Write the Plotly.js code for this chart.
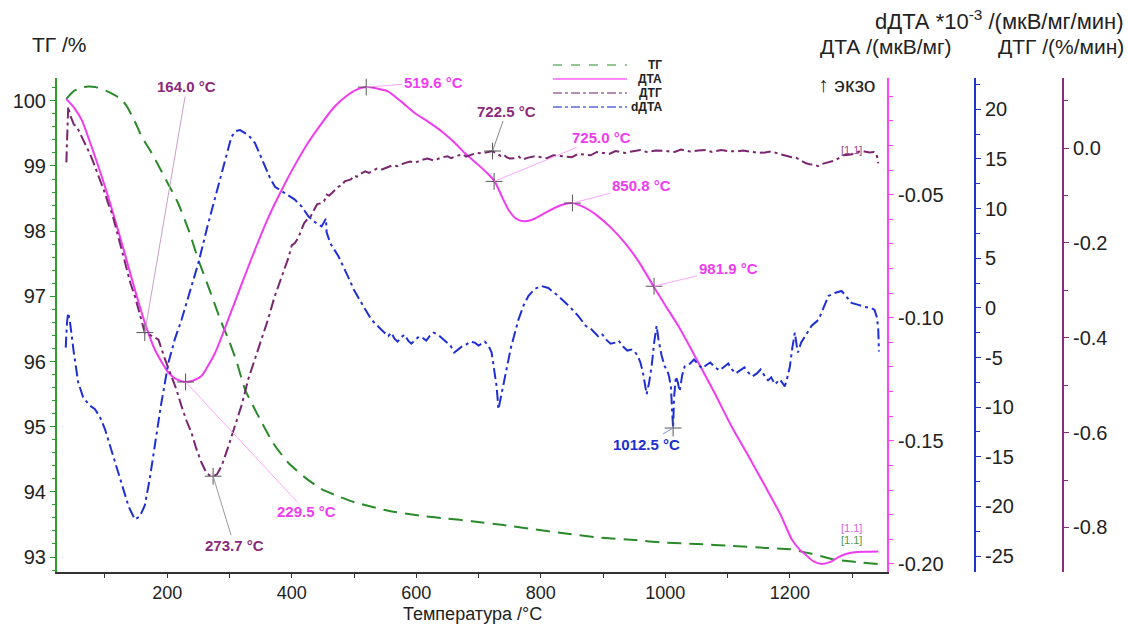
<!DOCTYPE html>
<html><head><meta charset="utf-8">
<script src="https://cdn.plot.ly/plotly-3.0.1.min.js"></script>
<style>html,body{margin:0;padding:0;background:#fff}#chart{width:1129px;height:624px}</style>
</head><body><div id="chart"></div>
<script>
// ---- data (temperature °C, values) ----
const tgT = [38,50,62,73,85,95,105,115,127,136,145,152,159,175,188,200,217,235,250,268,287,300,312,325,340,352,370,394,420,448,475,501,555,609,650,689,740,785,840,892,950,999,1050,1106,1160,1200,1235,1267,1300,1342];
const tgV = [100.03,100.15,100.2,100.22,100.21,100.18,100.14,100.09,100.02,99.9,99.74,99.6,99.45,99.2,98.97,98.75,98.44,98.0,97.56,97.1,96.6,96.3,95.98,95.57,95.28,95.06,94.75,94.45,94.23,94.04,93.93,93.84,93.71,93.63,93.59,93.55,93.49,93.43,93.36,93.30,93.26,93.22,93.20,93.17,93.14,93.12,93.05,92.97,92.93,92.89];

const dtaT = [38,50,62.6,84,105,127,148,164,180,202,215,229.5,242,255,277,298,320,341,362,384,405,426,448,469,490,505,520,535,555,575,598,620,641,660,678,700,715,726,737,748,760,772,785,807,830,850,870,892,913,935,958,981,1000,1021,1053,1080,1106,1133,1160,1185,1203,1215,1224,1238,1251,1265,1278,1290,1304,1320,1342];
const dtaV = [-0.0112,-0.0145,-0.0196,-0.0345,-0.0507,-0.0696,-0.0885,-0.102,-0.1129,-0.1223,-0.1250,-0.1261,-0.1255,-0.1237,-0.1142,-0.1007,-0.0860,-0.0723,-0.0595,-0.048,-0.0380,-0.029,-0.0210,-0.0142,-0.0095,-0.0072,-0.0063,-0.0068,-0.0081,-0.0120,-0.0169,-0.0205,-0.0243,-0.0285,-0.0331,-0.0380,-0.0415,-0.0446,-0.0505,-0.0561,-0.0597,-0.0608,-0.0603,-0.0574,-0.0545,-0.0534,-0.0552,-0.0588,-0.0635,-0.0696,-0.0775,-0.0872,-0.0950,-0.1034,-0.1182,-0.1310,-0.144,-0.1560,-0.1683,-0.1800,-0.19,-0.1940,-0.196,-0.1990,-0.2,-0.1992,-0.1973,-0.1960,-0.1953,-0.1951,-0.195];

const dtgT = [38,39,40,41,44,50,55,62.6,70,77,84,92,100,105,112,120,127,135,141,148,155,161,164,170,178,186,195,207,215,223,231,239,247,255,263,268,273.7,280,287.5,298,309,320,330,341,352,362,372,384,395,400,405,410,416,420,425,430,436,441,448,452,456,460,465,470,475,480,485,490,495,500,505,512,518,524,530,537,545,555,562,570,580,590,598,608,618,628,640,650,656,665,675,680,689,697,705,715,722.5,730,735,740,745,750,758,765,770,780,790,800,810,820,838,850,860,870,880,890,900,910,920,935,946,960,970,985,1000,1015,1025,1040,1053,1065,1075,1090,1100,1115,1125,1140,1150,1160,1170,1185,1195,1203,1210,1220,1226,1232,1240,1245,1250,1258,1267,1272,1280,1286,1294,1300,1308,1315,1320,1328,1335,1339,1341,1342];
const dtgV = [-0.03,0.003,0.06,0.088,0.07,0.05,0.045,0.024,0.005,-0.015,-0.039,-0.065,-0.095,-0.116,-0.14,-0.18,-0.214,-0.25,-0.285,-0.312,-0.345,-0.372,-0.389,-0.392,-0.398,-0.404,-0.44,-0.481,-0.51,-0.544,-0.575,-0.6,-0.635,-0.663,-0.685,-0.69,-0.692,-0.688,-0.67,-0.63,-0.586,-0.54,-0.488,-0.445,-0.404,-0.361,-0.315,-0.27,-0.23,-0.205,-0.2,-0.19,-0.172,-0.158,-0.15,-0.145,-0.13,-0.118,-0.116,-0.112,-0.098,-0.1,-0.094,-0.088,-0.081,-0.079,-0.07,-0.068,-0.066,-0.058,-0.06,-0.053,-0.049,-0.052,-0.047,-0.043,-0.045,-0.039,-0.036,-0.038,-0.032,-0.028,-0.031,-0.025,-0.022,-0.026,-0.02,-0.017,-0.021,-0.016,-0.013,-0.018,-0.014,-0.01,-0.011,-0.008,-0.006,-0.012,-0.016,-0.013,-0.019,-0.022,-0.021,-0.018,-0.024,-0.02,-0.017,-0.019,-0.021,-0.015,-0.018,-0.019,-0.012,-0.013,-0.015,-0.008,-0.01,-0.012,-0.006,-0.01,-0.007,-0.004,-0.008,-0.005,-0.006,-0.008,-0.003,-0.007,-0.005,-0.004,-0.008,-0.004,-0.006,-0.007,-0.005,-0.008,-0.01,-0.009,-0.007,-0.013,-0.017,-0.019,-0.02,-0.027,-0.032,-0.034,-0.035,-0.038,-0.034,-0.031,-0.028,-0.026,-0.02,-0.015,-0.014,-0.013,-0.009,-0.005,-0.007,-0.009,-0.008,-0.011,-0.025,-0.032];

const ddtaT = [37,39,41,44,50,57,65,75,84,92,100,113,127,138,148,156,164,172,180,190,202,212,223,236,250,265,282,293,303,310,317,325,333,341,355,365,373,385,395,405,416,427,438,448,455,456,462,475,490,500,512,528,544,550,555,560,565,570,575,581,587,592,598,604,610,616,622,628,635,640,645,650,655,661,667,673,680,687,694,700,710,716,721,726,729,732,736,742,752,764,772,780,790,801,812,828,845,860,872,882,892,898,905,912,919,925,932,939,946,951,956,960,964,967,970,974,978,982,986,989,994,999,1003,1006,1009,1011,1012.5,1014,1017,1020,1023,1027,1031,1040,1046,1053,1059,1065,1072,1080,1087,1095,1101,1107,1113,1120,1127,1133,1140,1147,1153,1160,1165,1170,1176,1184,1192,1196,1200,1204,1208,1211,1213,1218,1224,1235,1246,1254,1262,1272,1283,1290,1299,1310,1320,1330,1336,1340,1342,1343];
const ddtaV = [-4.0,-1.5,-0.5,-1.5,-4.5,-7.5,-9.0,-9.8,-10.2,-11.0,-12.2,-14.8,-17.6,-20.0,-21.3,-21.0,-19.9,-17.2,-13.9,-9.8,-5.5,-3.2,-1.2,1.6,4.5,8.3,12.2,15.0,17.2,17.8,17.9,17.6,17.2,16.6,14.6,13.1,12.2,11.7,11.3,10.9,10.2,9.2,8.6,8.2,9.0,7.6,6.5,5.2,3.2,1.8,0.5,-1.2,-2.2,-2.6,-2.85,-2.5,-3.1,-3.4,-3.0,-2.7,-3.3,-3.6,-3.2,-2.9,-3.0,-3.3,-2.8,-2.5,-2.7,-3.0,-3.2,-3.5,-3.8,-4.5,-4.2,-3.9,-3.7,-3.4,-3.5,-3.8,-3.4,-3.8,-4.5,-6.5,-7.9,-10.2,-9.0,-7.2,-4.0,-1.2,0.2,1.2,1.9,2.2,2.0,1.2,0.2,-0.8,-1.8,-2.2,-2.85,-2.6,-3.2,-3.6,-3.5,-3.3,-3.9,-4.3,-4.2,-4.4,-4.9,-5.5,-6.5,-7.6,-8.7,-7.5,-5.9,-3.5,-1.8,-3.2,-4.8,-5.9,-6.3,-6.9,-8.0,-10.5,-12.1,-9.0,-6.9,-7.5,-8.4,-6.8,-5.9,-5.6,-5.2,-5.7,-6.1,-5.8,-5.5,-6.0,-6.3,-5.9,-5.6,-6.2,-6.6,-6.3,-6.0,-6.5,-6.9,-6.6,-6.2,-6.9,-7.3,-7.0,-7.7,-7.2,-7.9,-7.0,-5.9,-4.0,-2.5,-3.8,-4.5,-3.5,-2.85,-1.8,-1.2,0.0,1.2,1.5,1.7,1.2,0.5,0.3,0.1,0.0,-0.2,-1.0,-2.2,-4.4];

// marked peaks
const dtaPeakT = [229.5, 519.6, 725.0, 850.8, 981.9];
const dtaPeakV = [-0.1261, -0.0063, -0.0446, -0.0534, -0.0872];
const dtgPeakT = [164.0, 273.7, 722.5];
const dtgPeakV = [-0.389, -0.692, -0.006];
const ddtaPeakT = [1012.5];
const ddtaPeakV = [-12.1];

// tick labels
const dtaTicks = [-0.20, -0.15, -0.10, -0.05];
const dtaTickText = ['-0.20', '-0.15', '-0.10', '-0.05'];
const ddtaTicks = [-25, -20, -15, -10, -5, 0, 5, 10, 15, 20];
const ddtaTickText = ['-25', '-20', '-15', '-10', '-5', '0', '5', '10', '15', '20'];
const dtgTicks = [-0.8, -0.6, -0.4, -0.2, 0.0];
const dtgTickText = ['-0.8', '-0.6', '-0.4', '-0.2', '0.0'];

// ---- styling ----
const FONT = 'Liberation Sans, Arial, sans-serif';
const C_TG = '#2a8a2a', C_DTA = '#f03cf0', C_DTG = '#7a2570', C_DDTA = '#1f2fd6';
const AX_TG = '#2aa02a', AX_DTA = '#ff44ff', AX_DDTA = '#2233cc', AX_DTG = '#8b2a80';

// layout geometry: plot area x 57..887, y 78..573
const L = 57, R = 20, T = 78, B = 52, W = 1129, H = 624;
const PW = W - L - R, PH = H - T - B;
const px = x => (x - L) / PW;
const py = y => (H - B - y) / PH;

const traces = [
  {x: tgT, y: tgV, yaxis: 'y', mode: 'lines', line: {color: C_TG, width: 2, dash: '14px,8px', shape: 'spline', smoothing: 0.6}, hoverinfo: 'skip'},
  {x: dtaT, y: dtaV, yaxis: 'y2', mode: 'lines', line: {color: C_DTA, width: 2, shape: 'spline', smoothing: 0.6}, hoverinfo: 'skip'},
  {x: dtgT, y: dtgV, yaxis: 'y4', mode: 'lines', line: {color: C_DTG, width: 2, dash: '11px,4px,3px,4px'}, hoverinfo: 'skip'},
  {x: ddtaT, y: ddtaV, yaxis: 'y3', mode: 'lines', line: {color: C_DDTA, width: 2, dash: '11px,4px,3px,4px'}, hoverinfo: 'skip'},
  {x: dtaPeakT, y: dtaPeakV, yaxis: 'y2', mode: 'markers', marker: {symbol: 'cross-thin', size: 12, line: {color: '#555', width: 1}}, hoverinfo: 'skip'},
  {x: dtgPeakT, y: dtgPeakV, yaxis: 'y4', mode: 'markers', marker: {symbol: 'cross-thin', size: 12, line: {color: '#555', width: 1}}, hoverinfo: 'skip'},
  {x: ddtaPeakT, y: ddtaPeakV, yaxis: 'y3', mode: 'markers', marker: {symbol: 'cross-thin', size: 12, line: {color: '#555', width: 1}}, hoverinfo: 'skip'}
];

const tickFont = {family: FONT, size: 20, color: '#222'};
const layout = {
  width: W, height: H,
  margin: {l: L, r: R, t: T, b: B, pad: 0},
  paper_bgcolor: '#fff', plot_bgcolor: '#fff',
  showlegend: false,
  font: {family: FONT},
  xaxis: {
    domain: [0, px(887)], range: [23, 1356],
    tick0: 0, dtick: 200, ticks: 'outside', ticklen: 4, tickcolor: '#333',
    minor: {dtick: 100, tick0: 0, ticklen: 4, tickcolor: '#333', ticks: 'outside'},
    showline: true, linecolor: '#333', linewidth: 1.5, mirror: false,
    showgrid: false, zeroline: false, tickfont: {family: FONT, size: 18, color: '#222'}
  },
  yaxis: {
    range: [92.77, 100.35], tick0: 0, dtick: 1, ticks: 'outside', ticklen: 5, tickcolor: AX_TG,
    minor: {dtick: 0.2, tick0: 0, ticklen: 3, tickcolor: AX_TG, ticks: 'outside'},
    showline: true, linecolor: AX_TG, linewidth: 2, showgrid: false, zeroline: false,
    tickfont: tickFont
  },
  yaxis2: {
    overlaying: 'y', side: 'right', anchor: 'x',
    range: [-0.2033, -0.0026], tickmode: 'array', tickvals: dtaTicks, ticktext: dtaTickText,
    ticks: 'outside', ticklen: 5, tickcolor: AX_DTA,
    minor: {tickmode: 'linear', dtick: 0.01, tick0: 0, ticklen: 4, tickcolor: AX_DTA, ticks: 'outside'},
    showline: true, linecolor: AX_DTA, linewidth: 2, showgrid: false, zeroline: false,
    tickfont: tickFont
  },
  yaxis3: {
    overlaying: 'y', side: 'right', anchor: 'free', position: px(975),
    range: [-26.6, 23.15], tickmode: 'array', tickvals: ddtaTicks, ticktext: ddtaTickText,
    ticks: 'outside', ticklen: 5, tickcolor: AX_DDTA,
    minor: {tickmode: 'linear', dtick: 2.5, tick0: 0, ticklen: 4, tickcolor: AX_DDTA, ticks: 'outside'},
    showline: true, linecolor: AX_DDTA, linewidth: 2, showgrid: false, zeroline: false,
    tickfont: tickFont
  },
  yaxis4: {
    overlaying: 'y', side: 'right', anchor: 'free', position: px(1063),
    range: [-0.894, 0.148], tickmode: 'array', tickvals: dtgTicks, ticktext: dtgTickText,
    ticks: 'outside', ticklen: 5, tickcolor: AX_DTG,
    minor: {tickmode: 'linear', dtick: 0.1, tick0: 0, ticklen: 4, tickcolor: AX_DTG, ticks: 'outside'},
    showline: true, linecolor: AX_DTG, linewidth: 2, showgrid: false, zeroline: false,
    tickfont: tickFont
  },
  shapes: [],
  annotations: []
};

// axis titles
const titleFont = {family: FONT, size: 21, color: '#222'};
layout.annotations.push(
  {xref: 'paper', yref: 'paper', x: px(472), y: py(625), xanchor: 'center', yanchor: 'bottom', text: 'Температура /°C', showarrow: false, borderpad: 0, font: {family: FONT, size: 18, color: '#222'}},
  {xref: 'paper', yref: 'paper', x: px(30), y: py(45), xanchor: 'left', yanchor: 'middle', text: 'ТГ /%', showarrow: false, font: titleFont},
  {xref: 'paper', yref: 'paper', x: px(1126), y: py(20), xanchor: 'right', yanchor: 'middle', text: 'dДТА *10<sup>-3</sup> /(мкВ/мг/мин)', showarrow: false, font: {family: FONT, size: 22, color: '#222'}},
  {xref: 'paper', yref: 'paper', x: px(886), y: py(47), xanchor: 'center', yanchor: 'middle', text: 'ДТА /(мкВ/мг)', showarrow: false, font: titleFont},
  {xref: 'paper', yref: 'paper', x: px(1061), y: py(47), xanchor: 'center', yanchor: 'middle', text: 'ДТГ /(%/мин)', showarrow: false, font: titleFont},
  {xref: 'paper', yref: 'paper', x: px(847), y: py(85), xanchor: 'center', yanchor: 'middle', text: '↑ экзо', showarrow: false, font: titleFont}
);

// manual legend
const legendItems = [
  {name: 'ТГ', color: '#6fb56f', dash: 'dash'},
  {name: 'ДТА', color: '#ff66ff', dash: 'solid'},
  {name: 'ДТГ', color: '#a06a98', dash: 'dashdot'},
  {name: 'dДТА', color: '#5a68d8', dash: 'dashdot'}
];
legendItems.forEach((it, i) => {
  const yy = 65 + i * 14;
  layout.shapes.push({type: 'line', xref: 'paper', yref: 'paper', x0: px(553), x1: px(627), y0: py(yy), y1: py(yy), line: {color: it.color, width: 1.5, dash: it.dash}});
  layout.annotations.push({xref: 'paper', yref: 'paper', x: px(664), y: py(yy), xanchor: 'right', yanchor: 'middle', text: '<b>' + it.name + '</b>', showarrow: false, font: {family: FONT, size: 12, color: '#222'}});
});

// peak annotations
const annFont = c => ({family: FONT, size: 15, color: c});
const P_TXT = '#8a2a7e', M_TXT = '#f03cf0', B_TXT = '#2030d0';
const P_LN = '#caa0c6', M_LN = '#ffa6ff', B_LN = '#8090e0';
function peakAnn(xv, yv, yref, label, ax, ay, tc, lc) {
  layout.annotations.push({x: xv, y: yv, xref: 'x', yref: yref, text: '<b>' + label + '</b>', showarrow: true, arrowhead: 0, arrowwidth: 1, arrowcolor: lc, ax: ax, ay: ay, standoff: 0, font: annFont(tc)});
}
peakAnn(dtgPeakT[0], dtgPeakV[0], 'y4', dtgPeakT[0].toFixed(1) + ' °C', 42, -246, P_TXT, P_LN);
peakAnn(dtgPeakT[1], dtgPeakV[1], 'y4', dtgPeakT[1].toFixed(1) + ' °C', 21, 69, P_TXT, '#999');
peakAnn(dtgPeakT[2], dtgPeakV[2], 'y4', dtgPeakT[2].toFixed(1) + ' °C', 14, -40, P_TXT, '#888');
peakAnn(dtaPeakT[0], dtaPeakV[0], 'y2', dtaPeakT[0].toFixed(1) + ' °C', 121, 130, M_TXT, M_LN);
peakAnn(dtaPeakT[1], dtaPeakV[1], 'y2', dtaPeakT[1].toFixed(1) + ' °C', 67, -5, M_TXT, M_LN);
peakAnn(dtaPeakT[2], dtaPeakV[2], 'y2', dtaPeakT[2].toFixed(1) + ' °C', 107, -44, M_TXT, M_LN);
peakAnn(dtaPeakT[3], dtaPeakV[3], 'y2', dtaPeakT[3].toFixed(1) + ' °C', 69, -18, M_TXT, M_LN);
peakAnn(dtaPeakT[4], dtaPeakV[4], 'y2', dtaPeakT[4].toFixed(1) + ' °C', 74, -18, M_TXT, M_LN);
peakAnn(ddtaPeakT[0], ddtaPeakV[0], 'y3', ddtaPeakT[0].toFixed(1) + ' °C', -27, 16, B_TXT, B_LN);

// [1.1] markers
layout.annotations.push(
  {xref: 'paper', yref: 'paper', x: px(864), y: py(142), text: '[1.1]', showarrow: false, font: {family: FONT, size: 11, color: '#9a4a90'}},
  {xref: 'paper', yref: 'paper', x: px(864), y: py(536), text: '[1.1]', showarrow: false, font: {family: FONT, size: 11, color: '#e060e0'}},
  {xref: 'paper', yref: 'paper', x: px(864), y: py(548), text: '[1.1]', showarrow: false, font: {family: FONT, size: 11, color: '#4a9a4a'}}
);

Plotly.newPlot('chart', traces, layout, {staticPlot: true, displayModeBar: false});
</script>
</body></html>
